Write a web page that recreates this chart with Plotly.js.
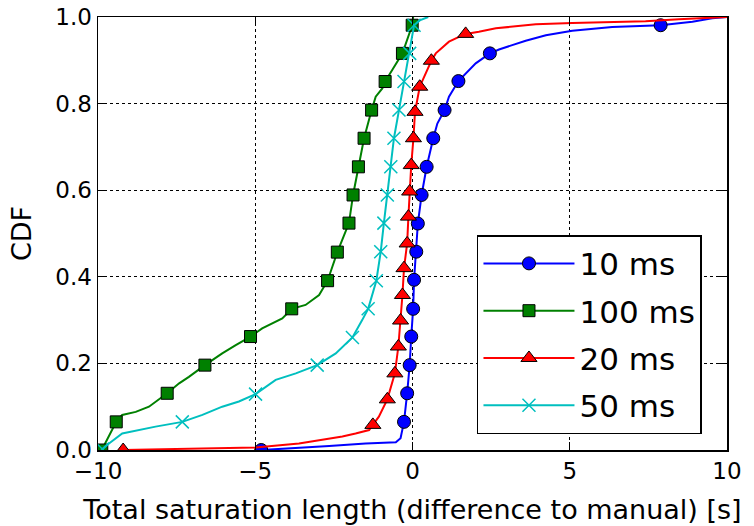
<!DOCTYPE html>
<html>
<head>
<meta charset="utf-8">
<script src="https://cdn.plot.ly/plotly-3.0.1.min.js"></script>
<style>html,body{margin:0;padding:0;background:#fff;}#chart{width:754px;height:526px;}</style>
</head>
<body>
<div id="chart"></div>
<script>
// Series names
var seriesNames = ["10 ms", "100 ms", "20 ms", "50 ms"];

// 10 ms (blue) line
var x10 = [-4.81, -3.70, -2.65, -1.49, -0.53, -0.38, -0.27, -0.17, -0.09, -0.04, 0.02, 0.05, 0.12, 0.17, 0.29, 0.45, 0.66, 0.79, 1.02, 1.16, 1.46, 1.69, 2.01, 2.46, 2.75, 3.17, 3.6, 4.24, 5.08, 6.35, 7.89, 8.9, 9.53, 10.0];
var y10 = [0.0, 0.004, 0.009, 0.015, 0.018, 0.027, 0.065, 0.131, 0.196, 0.262, 0.326, 0.393, 0.458, 0.523, 0.589, 0.654, 0.72, 0.754, 0.785, 0.816, 0.852, 0.87, 0.893, 0.916, 0.925, 0.935, 0.945, 0.958, 0.968, 0.977, 0.981, 0.989, 0.997, 1.0];
var mx10 = [-4.81, -0.27, -0.17, -0.09, -0.04, 0.02, 0.05, 0.12, 0.17, 0.29, 0.45, 0.66, 1.02, 1.46, 2.46, 7.89];
var my10 = [0.0, 0.065, 0.131, 0.196, 0.262, 0.326, 0.393, 0.458, 0.523, 0.589, 0.654, 0.72, 0.785, 0.852, 0.916, 0.981];

// 100 ms (green) line
var x100 = [-9.88, -9.42, -9.23, -8.8, -8.38, -7.80, -7.42, -7.11, -6.60, -6.05, -5.62, -5.15, -4.78, -4.14, -3.84, -3.40, -2.97, -2.70, -2.39, -2.02, -1.89, -1.72, -1.54, -1.30, -1.17, -0.96, -0.87, -0.64, -0.32, -0.01, 0.02];
var y100 = [0.0, 0.065, 0.081, 0.088, 0.1, 0.131, 0.154, 0.169, 0.196, 0.223, 0.242, 0.262, 0.281, 0.304, 0.326, 0.335, 0.358, 0.391, 0.457, 0.524, 0.589, 0.654, 0.72, 0.785, 0.816, 0.835, 0.851, 0.878, 0.916, 0.981, 1.0];
var mx100 = [-9.88, -9.42, -7.80, -6.60, -5.15, -3.84, -2.70, -2.39, -2.02, -1.89, -1.72, -1.54, -1.30, -0.87, -0.32, -0.01];
var my100 = [0.0, 0.065, 0.131, 0.196, 0.262, 0.326, 0.391, 0.457, 0.524, 0.589, 0.654, 0.72, 0.785, 0.851, 0.916, 0.981];

// 20 ms (red) line
var x20 = [-9.2, -7.0, -4.99, -3.61, -2.87, -2.23, -1.81, -1.38, -1.26, -1.07, -0.80, -0.56, -0.45, -0.38, -0.32, -0.27, -0.17, -0.13, -0.09, -0.04, 0.03, 0.08, 0.23, 0.60, 0.74, 1.16, 1.48, 1.69, 2.11, 2.65, 3.92, 5.08, 7.41, 8.47, 10.0];
var y20 = [0.0, 0.003, 0.006, 0.015, 0.023, 0.031, 0.038, 0.046, 0.058, 0.077, 0.117, 0.177, 0.239, 0.299, 0.358, 0.42, 0.477, 0.539, 0.597, 0.658, 0.72, 0.781, 0.839, 0.899, 0.916, 0.943, 0.954, 0.961, 0.966, 0.974, 0.983, 0.986, 0.99, 0.995, 1.0];
var mx20 = [-9.2, -1.26, -0.80, -0.56, -0.45, -0.38, -0.32, -0.27, -0.17, -0.13, -0.09, -0.04, 0.03, 0.08, 0.23, 0.60, 1.69];
var my20 = [0.0, 0.058, 0.117, 0.177, 0.239, 0.299, 0.358, 0.42, 0.477, 0.539, 0.597, 0.658, 0.72, 0.781, 0.839, 0.899, 0.961];

// 50 ms (cyan) line
var x50 = [-9.86, -9.65, -9.23, -8.7, -8.17, -7.32, -6.68, -6.05, -5.52, -4.99, -4.35, -3.71, -3.03, -2.44, -1.91, -1.6, -1.41, -1.15, -1.01, -0.91, -0.80, -0.69, -0.59, -0.43, -0.27, -0.09, 0.05, 0.25, 0.5];
var y50 = [0.002, 0.015, 0.038, 0.046, 0.054, 0.065, 0.081, 0.1, 0.112, 0.129, 0.162, 0.177, 0.196, 0.223, 0.260, 0.30, 0.326, 0.391, 0.458, 0.524, 0.589, 0.654, 0.72, 0.785, 0.851, 0.916, 0.981, 0.993, 1.0];
var mx50 = [-9.86, -7.32, -4.99, -3.03, -1.91, -1.41, -1.15, -1.01, -0.91, -0.80, -0.69, -0.59, -0.43, -0.27, -0.09, 0.05];
var my50 = [0.002, 0.065, 0.129, 0.196, 0.260, 0.326, 0.391, 0.458, 0.524, 0.589, 0.654, 0.72, 0.785, 0.851, 0.916, 0.981];

// Axis ticks
var xTicks = [-10, -5, 0, 5, 10];
var yTicks = [0.0, 0.2, 0.4, 0.6, 0.8, 1.0];

var styles = [
  {color: "#0000ff", symbol: "circle", size: 13, lineColor: "#000", lw: 1},
  {color: "#008000", symbol: "square", size: 12, lineColor: "#000", lw: 1},
  {color: "#ff0000", symbol: "triangle-up", size: 14, lineColor: "#000", lw: 1},
  {color: "#00bfbf", symbol: "x-thin-open", size: 13, lineColor: "#00bfbf", lw: 1.5}
];
var lines = [[x10, y10], [x100, y100], [x20, y20], [x50, y50]];
var marks = [[mx10, my10], [mx100, my100], [mx20, my20], [mx50, my50]];

var traces = [];
for (var i = 0; i < 4; i++) {
  var s = styles[i];
  var mk = {color: s.color, symbol: s.symbol, size: s.size, line: {color: s.lineColor, width: s.lw}};
  traces.push({x: lines[i][0], y: lines[i][1], mode: "lines", line: {color: s.color, width: 2},
    showlegend: false, hoverinfo: "skip", type: "scatter"});
  traces.push({x: marks[i][0], y: marks[i][1], mode: "markers", marker: mk,
    showlegend: false, type: "scatter"});
}
for (var j = 0; j < 4; j++) {
  var st = styles[j];
  traces.push({x: [null], y: [null], mode: "lines+markers", name: seriesNames[j], legendgroup: "g" + j,
    line: {color: st.color, width: 2},
    marker: {color: st.color, symbol: st.symbol, size: st.size, line: {color: st.lineColor, width: st.lw}},
    type: "scatter"});
}

var fontFam = "DejaVu Sans, sans-serif";
var layout = {
  width: 754, height: 526,
  margin: {l: 98, r: 27, t: 17, b: 76},
  paper_bgcolor: "#fff", plot_bgcolor: "#fff",
  font: {family: fontFam, color: "#000", size: 23},
  showlegend: true,
  legend: {
    x: 0.6025, y: 0.496, xanchor: "left", yanchor: "top",
    bgcolor: "#fff", bordercolor: "#000", borderwidth: 1.5,
    font: {family: fontFam, size: 31, color: "#000"},
    itemwidth: 91, tracegroupgap: 4
  },
  xaxis: {
    range: [-10, 10], tickvals: xTicks, ticks: "inside", ticklen: 8, tickwidth: 1.3, tickcolor: "#000",
    showline: true, linecolor: "#000", linewidth: 1.5, mirror: "ticks",
    showgrid: true, gridcolor: "#000", griddash: "dot", gridwidth: 1, zeroline: false,
    tickfont: {family: fontFam, size: 23}, automargin: false,
    title: {text: "Total saturation length (difference to manual) [s]", font: {family: fontFam, size: 27}, standoff: 17}
  },
  yaxis: {
    range: [0, 1], tickvals: yTicks, tickformat: ".1f", ticks: "inside", ticklen: 8, tickwidth: 1.3, tickcolor: "#000",
    showline: true, linecolor: "#000", linewidth: 1.5, mirror: "ticks",
    showgrid: true, gridcolor: "#000", griddash: "dot", gridwidth: 1, zeroline: false,
    tickfont: {family: fontFam, size: 23}, automargin: false,
    title: {text: "CDF", font: {family: fontFam, size: 27}, standoff: 16}
  }
};

Plotly.newPlot("chart", traces, layout, {displayModeBar: false, staticPlot: true});
</script>
</body>
</html>
